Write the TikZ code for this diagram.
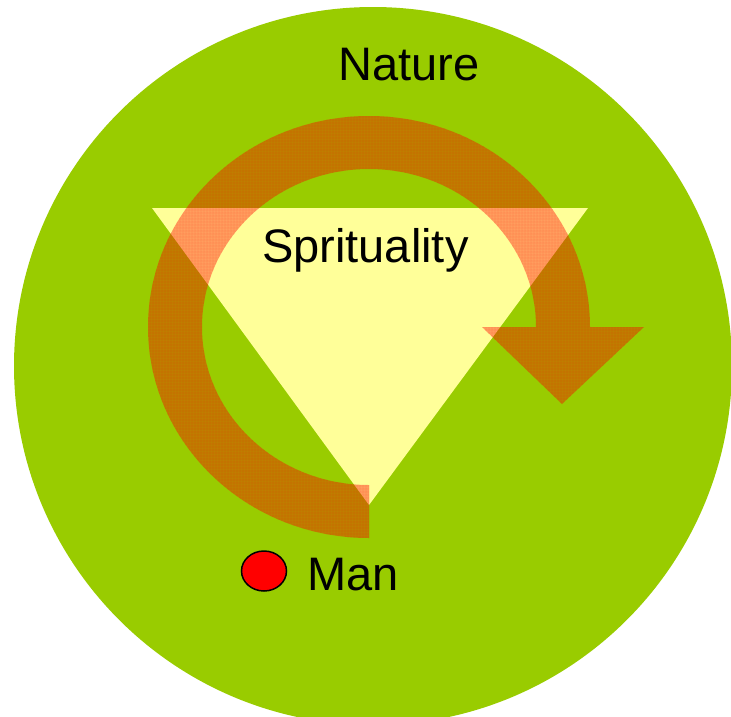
\documentclass[tikz,border=0pt]{standalone}
\usepackage{fontspec}
\setmainfont{Liberation Sans}
\usetikzlibrary{shapes.geometric,patterns}
\begin{document}
\begin{tikzpicture}[x=1pt,y=1pt,
  lbl/.style={inner sep=0pt,anchor=base west,font=\fontsize{47}{56}\selectfont},
  cyclearrow/.style={fill=red,fill opacity=0.38,draw=none},
  cyclehatch/.style={pattern=grid,pattern color=red,draw=none}]
\definecolor{naturegreen}{HTML}{99CC00}
\definecolor{spiritYellow}{HTML}{FFFF99}
\useasboundingbox (0,0) rectangle (731,-716);
\clip (0,0) rectangle (731,-716);
% Nature circle
\fill[naturegreen] (373,-366) circle[radius=359];
% Spirituality triangle
\fill[spiritYellow] (152,-208) -- (588,-208) -- (369,-505) -- cycle;
% cyclic arrow
\def\cyclepath{(369,-538)
  arc[start angle=270,end angle=0,x radius=221,y radius=211]
  -- (644,-327) -- (562,-404) -- (482,-327) -- (536,-327)
  arc[start angle=0,end angle=270,x radius=167,y radius=158]
  -- cycle}
\path[cyclearrow] \cyclepath;
\begin{scope}[transparency group,opacity=0.3]
\path[cyclehatch] \cyclepath;
\end{scope}
% texts
\node[lbl] (nature) at (338,-80) {Nature};
\node[lbl] (spirit) at (262,-262) {Sprituality};
\node[lbl] (man) at (307,-590) {Man};
% Man dot
\node[draw=black,line width=1.5pt,fill=red,ellipse,minimum width=45pt,minimum height=40pt,inner sep=0pt] (mandot) at (264,-571) {};
\end{tikzpicture}
\end{document}
